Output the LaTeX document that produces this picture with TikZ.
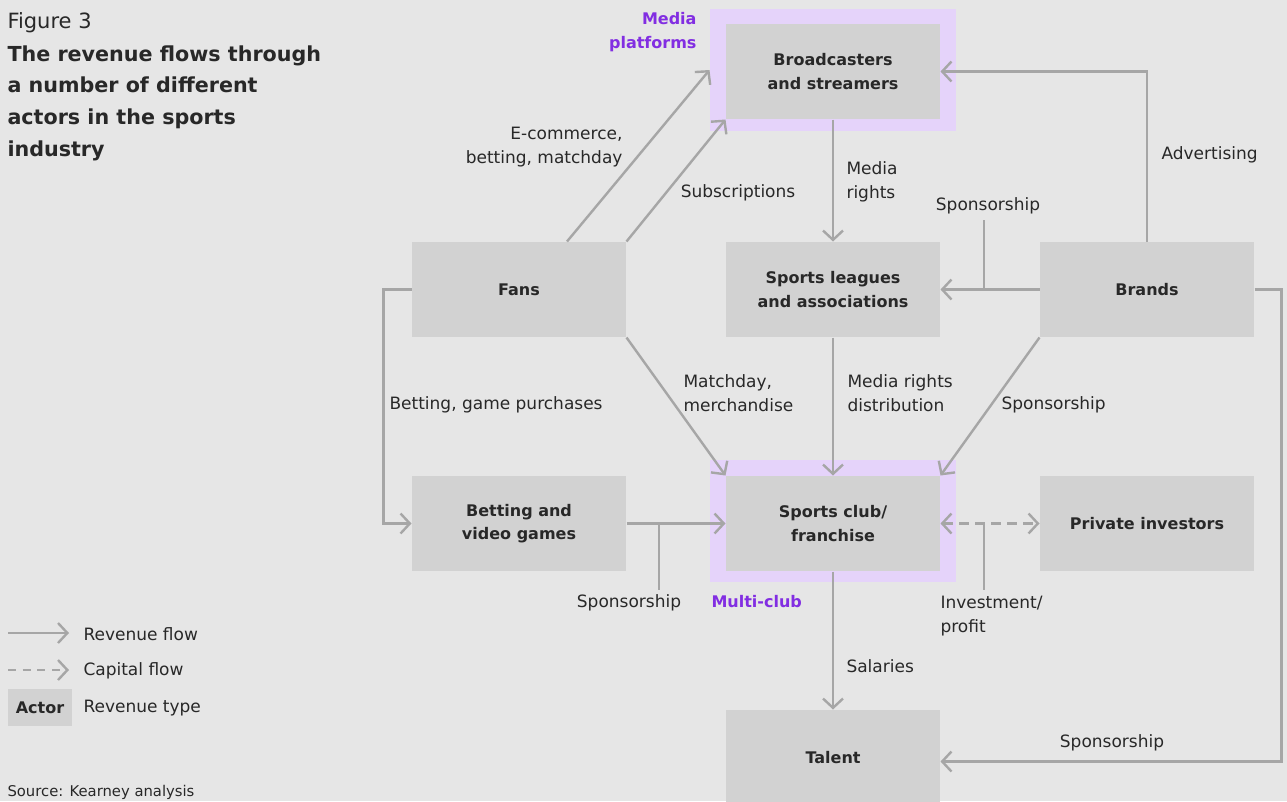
\documentclass[tikz,border=0pt]{standalone}
\usepackage{fontspec}
\setmainfont{DejaVu Sans}
\usetikzlibrary{arrows.meta}

\definecolor{bggray}{RGB}{230,230,230}
\definecolor{boxgray}{RGB}{210,210,210}
\definecolor{flowgray}{RGB}{166,166,166}
\definecolor{txtdark}{RGB}{40,40,40}
\definecolor{mpurple}{RGB}{130,46,226}
\definecolor{mlilac}{RGB}{229,211,250}

\tikzset{every picture/.style={line width=0.75pt}}
\tikzset{
  actor/.style={fill=boxgray, text=txtdark, minimum width=160.5pt, minimum height=71.25pt, inner sep=0pt, align=center, font=\fontsize{12}{17.6}\selectfont\bfseries},
  lbl/.style={text=txtdark, inner sep=0pt, font=\fontsize{12.75}{17.6}\selectfont},
  grp/.style={text=mpurple, inner sep=0pt, font=\fontsize{12}{17.6}\selectfont\bfseries},
  flow/.style={draw=flowgray, line width=1.8pt, -{Straight Barb[length=7pt,width=15pt]}},
  capflow/.style={flow, dash pattern=on 7.5pt off 4.5pt, {Straight Barb[length=7pt,width=15pt]}-{Straight Barb[length=7pt,width=15pt]}},
  callout/.style={draw=flowgray, line width=1.1pt},
}

\begin{document}
\begin{tikzpicture}[x=0.75pt,y=0.75pt,yscale=-1,xscale=1]
\fill[bggray] (0,0) rectangle (1287,801);
\useasboundingbox (0,0) rectangle (1287,801);

% Title
\node[anchor=north west, inner sep=0pt, text=txtdark, font=\fontsize{15.75}{20}\selectfont] (fignum) at (7,11.7) {Figure 3};
\node[anchor=north west, inner sep=0pt, align=left, text=txtdark, font=\fontsize{15.5}{23.75}\selectfont\bfseries] (title) at (7,45) {The revenue flows through\\a number of different\\actors in the sports\\industry};

% Highlights
\fill[mlilac] (710,9) rectangle (956,131);
\fill[mlilac] (710,460) rectangle (956,582);

% Actors
\node[actor] (bcast) at (833,71.5) {Broadcasters\\and streamers};
\node[actor] (fans) at (519,289.5) {Fans};
\node[actor] (leagues) at (833,289.5) {Sports leagues\\and associations};
\node[actor] (brands) at (1147,289.5) {Brands};
\node[actor] (betting) at (519,523.5) {Betting and\\video games};
\node[actor] (club) at (833,523.5) {Sports club/\\franchise};
\node[actor] (investors) at (1147,523.5) {Private investors};
\node[actor] (talent) at (833,757.5) {Talent};

% Group labels
\node[grp, anchor=east, align=right] (mediaplat) at (697,32) {Media\\platforms};
\node[grp, anchor=west] (multiclub) at (711,602) {Multi-club};

% Revenue flows
\draw[flow] ([shift={(48,0)}]fans.north) -- ([shift={(-16,-1.5)}]bcast.west);
\draw[flow] (fans.north east) -- (bcast.south west);
\draw[flow] (bcast.south) -- (leagues.north);
\draw[flow] (brands.north) |- (bcast.east);
\draw[flow] (brands.west) -- (leagues.east);
\draw[flow] (brands.east) -- ++(27,0) |- ([shift={(0,4)}]talent.east);
\draw[flow] (fans.west) -- ++(-28,0) |- (betting.west);
\draw[flow] (fans.south east) -- (club.north west);
\draw[flow] (leagues.south) -- (club.north);
\draw[flow] (brands.south west) -- (club.north east);
\draw[flow] (betting.east) -- (club.west);
\draw[capflow] (club.east) -- (investors.west);
\draw[flow] (club.south) -- (talent.north);

% Flow labels
\node[lbl, anchor=east, align=right] (ecom) at (623,147) {E-commerce,\\betting, matchday};
\node[lbl] (subs) at (738,193) {Subscriptions};
\node[lbl, anchor=west, align=left] (mrights) at (846,182) {Media\\rights};
\node[lbl, anchor=west] (advert) at (1161,155) {Advertising};
\node[lbl] (sponA) at (988,206) {Sponsorship};
\node[lbl, anchor=west] (betgame) at (389,405) {Betting, game purchases};
\node[lbl, anchor=west, align=left] (matchday) at (683,393) {Matchday,\\merchandise};
\node[lbl, anchor=west, align=left] (mrdist) at (847,393) {Media rights\\distribution};
\node[lbl, anchor=west] (sponB) at (1001,405) {Sponsorship};
\node[lbl] (sponC) at (629,603) {Sponsorship};
\node[lbl, anchor=west, align=left] (invest) at (940,616) {Investment/\\profit};
\node[lbl, anchor=west] (salaries) at (846,666) {Salaries};
\node[lbl] (sponD) at (1112,743) {Sponsorship};

% Callout ticks
\coordinate (tickA) at (984,289.5);
\coordinate (tickC) at (659,523.5);
\coordinate (tickI) at (984,523.5);
\draw[callout] (tickA) -- (tickA |- 0,220);
\draw[callout] (tickC) -- (tickC |- 0,590);
\draw[callout] (tickI) -- (tickI |- 0,590);

% Legend
\coordinate (lgflowA) at (8,633);
\coordinate (lgflowB) at (8,670);
\node[lbl, anchor=west] (lgrev) at (83,634) {Revenue flow};
\node[lbl, anchor=west] (lgcap) at (83,671) {Capital flow};
\draw[flow] (lgflowA) -- ([shift={(-14,-1)}]lgrev.west);
\draw[flow, dash pattern=on 6pt off 5pt] (lgflowB) -- ([shift={(-14,-1)}]lgcap.west);
\node[actor, minimum width=48pt, minimum height=27.75pt] (lgactor) at (40,707.5) {Actor};
\node[lbl, anchor=west] (lgtype) at (83,708) {Revenue type};

% Source
\node[anchor=base west, inner sep=0pt, text=txtdark, font=\fontsize{11.1}{13}\selectfont] (source) at (7,796) {Source: Kearney analysis};

\end{tikzpicture}
\end{document}
